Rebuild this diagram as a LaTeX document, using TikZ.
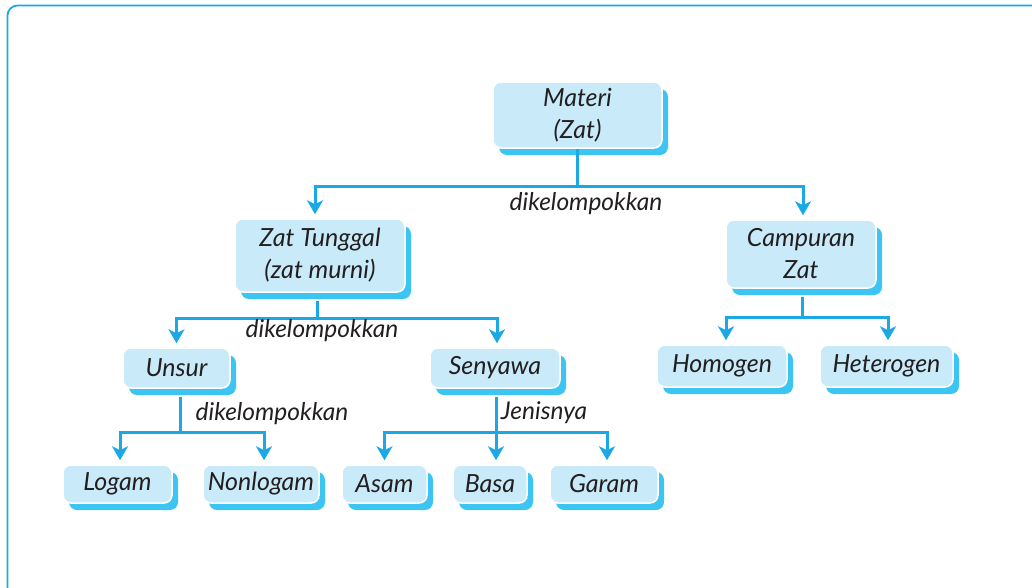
\documentclass[tikz,border=0pt]{standalone}
\usepackage{fontspec}
\setmainfont{Lato}
\usetikzlibrary{arrows.meta,shadows}
\definecolor{lblue}{HTML}{C9EAF8}
\definecolor{shb}{HTML}{3CC5F2}
\definecolor{lnc}{HTML}{1BA9E6}
\definecolor{txt}{HTML}{231F20}
\tikzset{
  box/.style={rectangle,rounded corners=8pt,fill=lblue,draw=white,line width=1.5pt,
    text=txt,font=\fontsize{25}{32}\selectfont\itshape,align=center,inner sep=2pt,
    drop shadow={shadow xshift=6pt,shadow yshift=-7pt,fill=shb,opacity=1}},
  ln/.style={draw=lnc,line width=3pt},
  arr/.style={ln,-{Stealth[length=14pt,width=16pt,inset=4pt]},shorten >=4pt},
  lbl/.style={text=txt,font=\fontsize{24.5}{28}\selectfont\itshape,inner sep=0pt}
}
\begin{document}
\begin{tikzpicture}[x=1pt,y=-1pt]
\useasboundingbox (0,0) rectangle (1032,587);
\clip (0,0) rectangle (1032,587);
\draw[lnc,line width=1.8pt,rounded corners=10pt] (7.5,5.5) rectangle (1045,600);
% nodes
\node[box,minimum width=169pt,minimum height=66pt] (mat) at (577.5,115) {Materi\\(Zat)};
\node[box,minimum width=170pt,minimum height=73pt] (zt) at (320,255.5) {Zat Tunggal\\(zat murni)};
\node[box,minimum width=150pt,minimum height=68pt] (cz) at (801,254) {Campuran\\Zat};
\node[box,minimum width=107pt,minimum height=40pt] (un) at (176.5,368) {Unsur};
\node[box,minimum width=130pt,minimum height=40pt] (se) at (495,368) {Senyawa};
\node[box,minimum width=109pt,minimum height=38pt] (lo) at (117.5,484) {Logam};
\node[box,minimum width=116pt,minimum height=38pt] (nl) at (261,484) {Nonlogam};
\node[box,minimum width=85pt,minimum height=38pt] (as) at (384.5,484) {Asam};
\node[box,minimum width=74pt,minimum height=38pt] (ba) at (490,484) {Basa};
\node[box,minimum width=108pt,minimum height=38pt] (ga) at (604,484) {Garam};
\node[box,minimum width=130pt,minimum height=42pt] (ho) at (722,366) {Homogen};
\node[box,minimum width=133pt,minimum height=42pt] (he) at (886.5,366) {Heterogen};
% junctions
\coordinate (b1) at (577.5,186);
\coordinate (b2) at (317,318);
\coordinate (b3) at (180,432);
\coordinate (b4) at (496,432);
\coordinate (b5) at (802,317);
% connectors
\draw[ln] (mat.south) -- (b1);
\draw[arr] (b1) -| ([xshift=-5pt]zt.north);
\draw[arr] (b1) -| ([xshift=2pt]cz.north);
\draw[ln] ([yshift=-8pt]zt.south -| b2) -- (b2);
\draw[arr] (b2) -| (un.north);
\draw[arr] (b2) -| ([xshift=2pt]se.north);
\draw[ln] ([yshift=-8pt]un.south -| b3) -- (b3);
\draw[arr] (b3) -| ([xshift=2.5pt]lo.north);
\draw[arr] (b3) -| ([xshift=3pt]nl.north);
\draw[ln] ([yshift=-8pt]se.south -| b4) -- (b4);
\draw[arr] (b4) -| (as.north);
\draw[arr] (b4) -| ([xshift=6pt]ba.north);
\draw[arr] (b4) -| ([xshift=3pt]ga.north);
\draw[ln] ([yshift=-8pt]cz.south -| b5) -- (b5);
\draw[arr] (b5) -| ([xshift=4pt]ho.north);
\draw[arr] (b5) -| ([xshift=1.5pt]he.north);
% labels
\node[lbl] (l1) at (586,204) {dikelompokkan};
\node[lbl] (l2) at (322,331) {dikelompokkan};
\node[lbl] (l3) at (272,414) {dikelompokkan};
\node[lbl] (l4) at (544,413) {Jenisnya};
\end{tikzpicture}
\end{document}
